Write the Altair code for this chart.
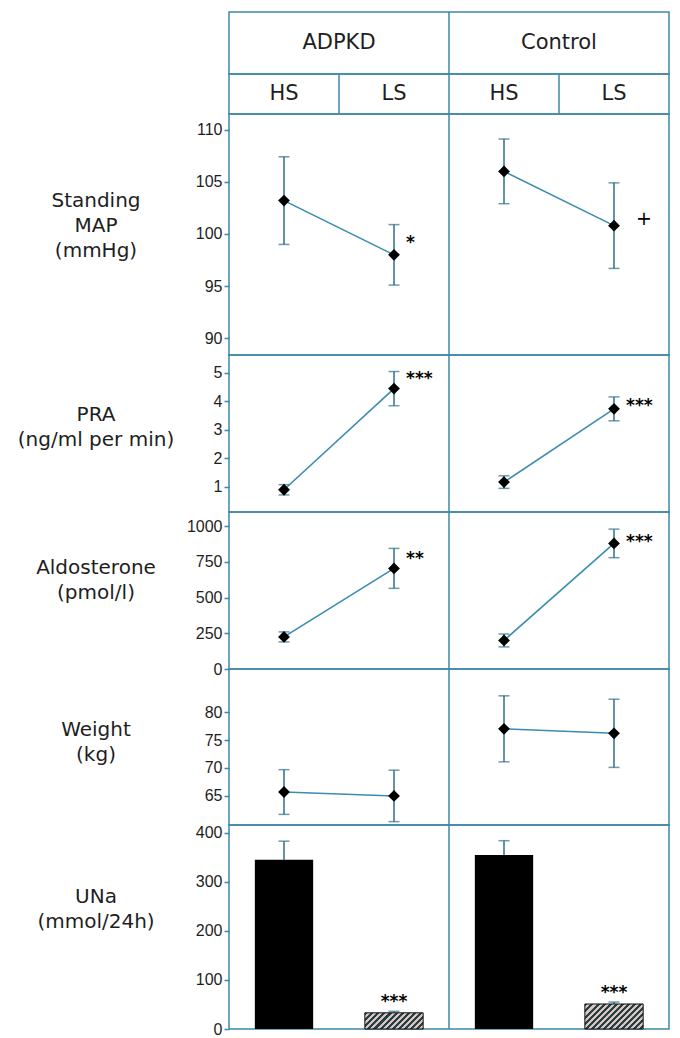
import math
import altair as alt
import pandas as pd

# ---------------- data ----------------
cats = ["ADPKD HS", "ADPKD LS", "Control HS", "Control LS"]
groups = ["ADPKD", "ADPKD", "Control", "Control"]
salts = ["HS", "LS", "HS", "LS"]
group_names = ["ADPKD", "Control"]

map_mean = [103.2, 98.0, 106.0, 100.8]
map_err = [4.2, 2.9, 3.1, 4.1]
pra_mean = [0.9, 4.45, 1.17, 3.74]
pra_err = [0.18, 0.6, 0.22, 0.42]
aldo_mean = [225, 705, 200, 880]
aldo_err = [35, 140, 45, 100]
weight_mean = [65.7, 65.0, 77.0, 76.2]
weight_err = [4.0, 4.6, 5.9, 6.1]
una_mean = [345, 33, 355, 51]
una_err = [38, 3, 29, 4]

# significance labels: (category, text, y value of label)
map_ann = [("ADPKD LS", "*", 99.6), ("Control LS", "+", 101.4)]
pra_ann = [("ADPKD LS", "***", 4.95), ("Control LS", "***", 4.0)]
aldo_ann = [("ADPKD LS", "**", 805), ("Control LS", "***", 925)]
una_ann = [("ADPKD LS", "***", 65), ("Control LS", "***", 84)]

# ---------------- style ----------------
BORDER = "#3f87a6"
LINE = "#3b8cb0"
ERR = "#2f6f8a"
TXT = "#1e1e1e"
W = 440
LH = 25
TITLE_FONT = "DejaVu Sans"
LABEL_FONT = "Liberation Sans Narrow, Liberation Sans"

xscale = alt.Scale(type="band", domain=cats, paddingInner=0, paddingOuter=0)


def X(**kw):
    return alt.X("cat:N", scale=xscale, axis=None, **kw)


def make_df(mean, err):
    return pd.DataFrame({
        "cat": cats, "group": groups, "mean": mean,
        "lo": [m - e for m, e in zip(mean, err)],
        "hi": [m + e for m, e in zip(mean, err)],
    })


def divider(cat_list):
    return alt.Chart(pd.DataFrame({"cat": cat_list})).mark_rule(
        color=BORDER, strokeWidth=1.5).encode(x=X(bandPosition=0))


def row_title(lines, center):
    first = center - (len(lines) - 1) / 2 * LH
    return alt.Chart(pd.DataFrame({"k": [0]})).mark_text(
        font=TITLE_FONT, fontSize=20, color=TXT, align="center",
        baseline="middle", lineHeight=LH).encode(
        x=alt.value(-133), y=alt.value(first), text=alt.value(lines))


def y_axis(ticks):
    return alt.Axis(values=ticks, format="d", domain=False, ticks=True,
                    tickSize=5, tickColor=BORDER, tickWidth=1.5,
                    labelFont=LABEL_FONT, labelFontSize=16, labelColor=TXT,
                    labelPadding=2, grid=False, title=None)


def point_row(mean, err, domain, ticks, lines, ty, height, ann):
    df = make_df(mean, err)
    sc = alt.Scale(domain=domain, nice=False, zero=False)
    ax = y_axis(ticks)

    def Y(f):
        return alt.Y(f, scale=sc, axis=ax, title=None)

    base = alt.Chart(df)
    line = base.mark_line(color=LINE, strokeWidth=1.6).encode(
        x=X(), y=Y("mean:Q"), detail="group:N")
    ebar = base.mark_rule(color=ERR, strokeWidth=1.5).encode(
        x=X(), y=Y("lo:Q"), y2="hi:Q")
    cap_lo = base.mark_tick(color=ERR, thickness=1.5, size=11).encode(
        x=X(), y=Y("lo:Q"))
    cap_hi = base.mark_tick(color=ERR, thickness=1.5, size=11).encode(
        x=X(), y=Y("hi:Q"))
    pts = base.mark_point(shape="diamond", filled=True, color="#000000",
                          size=140, opacity=1).encode(x=X(), y=Y("mean:Q"))
    layers = [divider(["Control HS"]), line, ebar, cap_lo, cap_hi, pts]
    if ann:
        adf = pd.DataFrame({"cat": [a[0] for a in ann],
                            "label": [a[1] for a in ann],
                            "ypos": [a[2] for a in ann]})
        stars = alt.Chart(adf).transform_filter(
            alt.datum.label != "+").mark_text(
            font=TITLE_FONT, fontWeight="bold", fontSize=17, color="#000",
            align="left", baseline="alphabetic", dx=12, dy=10).encode(
            x=X(), y=Y("ypos:Q"), text="label:N")
        plus = alt.Chart(adf).transform_filter(
            alt.datum.label == "+").mark_text(
            font=TITLE_FONT, fontSize=19, color="#000",
            align="left", baseline="middle", dx=22).encode(
            x=X(), y=Y("ypos:Q"), text="label:N")
        layers += [stars, plus]
    layers.append(row_title(lines, ty))
    return alt.layer(*layers).properties(width=W, height=height)


def hatch(w, h, period=4.3, frac=0.5, fg="#24404b", bg="#dcc4bb"):
    r = h / w
    s = (1 + r) / (1 + r * r)
    n = (w + h) / (period * math.sqrt(2))
    stops = []
    i = 0
    while i / n < 1:
        a = i / n
        b = min((i + frac) / n, 1)
        c = min((i + 1) / n, 1)
        stops += [{"offset": a, "color": fg}, {"offset": b, "color": fg},
                  {"offset": b, "color": bg}, {"offset": c, "color": bg}]
        i += 1
    return {"gradient": "linear", "x1": 0, "y1": 0, "x2": s, "y2": s * r,
            "stops": stops}


def bar_row(mean, err, domain, ticks, lines, ty, height, ann):
    df = pd.DataFrame({"cat": cats, "group": groups, "salt": salts,
                       "mean": mean,
                       "hi": [m + e for m, e in zip(mean, err)]})
    sc = alt.Scale(domain=domain, nice=False, zero=False)
    ax = y_axis(ticks)

    def Y(f):
        return alt.Y(f, scale=sc, axis=ax, title=None)

    band = 0.53
    bw = band * W / len(cats)
    base = alt.Chart(df)
    ebar = base.mark_rule(color=ERR, strokeWidth=1.5).encode(
        x=X(), y=Y("mean:Q"), y2="hi:Q")
    cap = base.mark_tick(color=ERR, thickness=1.5, size=11).encode(
        x=X(), y=Y("hi:Q"))
    hs = base.transform_filter(alt.datum.salt == "HS").mark_bar(
        width={"band": band}, color="#000000").encode(x=X(), y=Y("mean:Q"))
    layers = [divider(["Control HS"]), ebar, cap, hs]
    for c, m in zip(cats, mean):
        if c.endswith("LS"):
            hpx = m / domain[1] * height
            layers.append(base.transform_filter(alt.datum.cat == c).mark_bar(
                width={"band": band}, fill=hatch(bw, hpx), stroke="#111111",
                strokeWidth=1).encode(x=X(), y=Y("mean:Q")))
    adf = pd.DataFrame({"cat": [a[0] for a in ann],
                        "label": [a[1] for a in ann],
                        "ypos": [a[2] for a in ann]})
    layers.append(alt.Chart(adf).mark_text(
        font=TITLE_FONT, fontWeight="bold", fontSize=17, color="#000",
        align="center", baseline="alphabetic", dy=10).encode(
        x=X(), y=Y("ypos:Q"), text="label:N"))
    layers.append(row_title(lines, ty))
    return alt.layer(*layers).properties(width=W, height=height)


# ---------------- header ----------------
gscale = alt.Scale(type="band", domain=group_names, paddingInner=0,
                   paddingOuter=0)
header1 = alt.layer(
    alt.Chart(pd.DataFrame({"group": group_names})).mark_text(
        font=TITLE_FONT, fontSize=21, color=TXT, baseline="middle").encode(
        x=alt.X("group:N", scale=gscale, axis=None), y=alt.value(31),
        text="group:N"),
    alt.Chart(pd.DataFrame({"group": ["Control"]})).mark_rule(
        color=BORDER, strokeWidth=1.5).encode(
        x=alt.X("group:N", scale=gscale, axis=None, bandPosition=0)),
).properties(width=W, height=62)

header2 = alt.layer(
    alt.Chart(pd.DataFrame({"cat": cats, "salt": salts})).mark_text(
        font=TITLE_FONT, fontSize=21, color=TXT, baseline="middle").encode(
        x=X(), y=alt.value(20), text="salt:N"),
    divider(cats[1:]),
).properties(width=W, height=40)

r_map = point_row(map_mean, map_err, [88.4, 111.5], [90, 95, 100, 105, 110],
                  ["Standing", "MAP", "(mmHg)"], 112, 241, map_ann)
r_pra = point_row(pra_mean, pra_err, [0.12, 5.63], [1, 2, 3, 4, 5],
                  ["PRA", "(ng/ml per min)"], 72, 157, pra_ann)
r_aldo = point_row(aldo_mean, aldo_err, [0, 1100], [0, 250, 500, 750, 1000],
                   ["Aldosterone", "(pmol/l)"], 68, 157, aldo_ann)
r_wt = point_row(weight_mean, weight_err, [59.8, 87.7], [65, 70, 75, 80],
                 ["Weight", "(kg)"], 73, 156, None)
r_una = bar_row(una_mean, una_err, [0, 416], [0, 100, 200, 300, 400],
                ["UNa", "(mmol/24h)"], 84, 204, una_ann)

chart = alt.vconcat(header1, header2, r_map, r_pra, r_aldo, r_wt, r_una,
                    spacing=0, bounds="flush").properties(
    padding={"left": 9, "top": 2, "right": 0, "bottom": 0}
).configure_view(stroke=BORDER, strokeWidth=1.5)

chart.save("out.html", embed_options={"renderer": "svg", "actions": False})
